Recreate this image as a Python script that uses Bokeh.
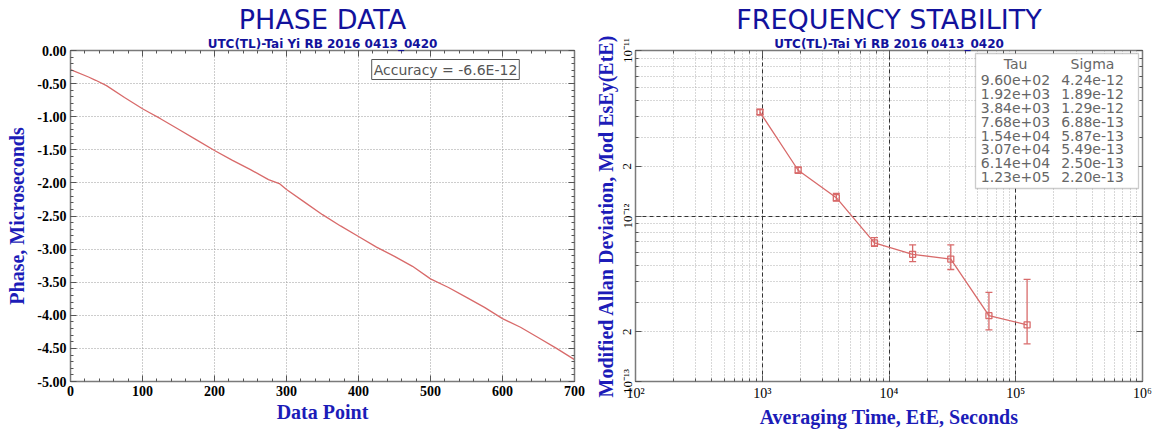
import numpy as np
from bokeh.plotting import figure
from bokeh.models import (Range1d, LinearAxis, LogAxis, FixedTicker, SingleIntervalTicker,
                          NumeralTickFormatter, CustomJSTickFormatter, Title, Label,
                          BoxAnnotation, Whisker, ColumnDataSource, TeeHead)
from bokeh.layouts import row
from bokeh.embed import file_html
from bokeh.resources import INLINE

# ---------------- data ----------------
phase_point = [0, 25, 35, 50, 75, 100, 110, 125, 150, 175, 200, 225, 250, 275, 290, 300,
               325, 350, 375, 400, 425, 450, 475, 500, 525, 550, 575, 600, 625, 650, 675, 700]
phase_us = [-0.29, -0.40, -0.45, -0.53, -0.71, -0.88, -0.94, -1.03, -1.19, -1.35, -1.51,
            -1.66, -1.80, -1.95, -2.01, -2.10, -2.29, -2.48, -2.65, -2.81, -2.97, -3.11,
            -3.26, -3.45, -3.58, -3.73, -3.88, -4.05, -4.18, -4.34, -4.50, -4.67]
accuracy_text = "Accuracy = -6.6E-12"

tau = [960, 1920, 3840, 7680, 15360, 30720, 61440, 122880]
sigma = [4.24e-12, 1.89e-12, 1.29e-12, 6.88e-13, 5.87e-13, 5.49e-13, 2.50e-13, 2.20e-13]
sigma_lo = [4.10e-12, 1.82e-12, 1.23e-12, 6.55e-13, 5.30e-13, 4.75e-13, 2.05e-13, 1.69e-13]
sigma_hi = [4.40e-12, 1.97e-12, 1.37e-12, 7.40e-13, 6.70e-13, 6.70e-13, 3.46e-13, 4.14e-13]

subtitle = "UTC(TL)-Tai Yi RB 2016 0413_0420"
stab_y_major = [1e-13, 2e-13, 1e-12, 2e-12, 1e-11]
stab_y_decades = [1e-13, 1e-12, 1e-11]
stab_y_minor = [m * d for d in [1e-13, 1e-12] for m in range(1, 10)] + [1e-11]

# ---------------- style ----------------
TITLE_BLUE = "#12129c"
LABEL_BLUE = "#1c1cb8"
RED = "#d86a6a"
FRAME = "#7a7a7a"
SERIF = "Liberation Serif"
TITLE_FONT = "DejaVu Sans"

def style_axis(ax, size="14px", bold=True):
    ax.major_label_text_font = SERIF
    ax.major_label_text_font_size = size
    ax.major_label_text_font_style = "bold" if bold else "normal"
    ax.major_label_text_color = "black"
    ax.axis_label_text_font = SERIF
    ax.axis_label_text_font_size = "20px"
    ax.axis_label_text_font_style = "bold"
    ax.axis_label_text_color = LABEL_BLUE
    ax.axis_line_color = FRAME
    ax.axis_line_width = 1.5
    ax.major_tick_in = 6
    ax.major_tick_out = 0
    ax.minor_tick_in = 3
    ax.minor_tick_out = 0
    ax.major_tick_line_color = "#555555"
    ax.minor_tick_line_color = "#555555"

def blank_axis(ax):
    ax.formatter = CustomJSTickFormatter(code="return '';")
    ax.major_label_standoff = 0
    ax.axis_line_color = FRAME
    ax.axis_line_width = 1.5
    ax.major_tick_in = 6
    ax.major_tick_out = 0
    ax.minor_tick_in = 3
    ax.minor_tick_out = 0
    ax.major_tick_line_color = "#555555"
    ax.minor_tick_line_color = "#555555"

def add_titles(p, main, sub):
    p.add_layout(Title(text=sub, align="center", text_font=TITLE_FONT, text_font_size="12px",
                       text_font_style="bold", text_color=TITLE_BLUE, standoff=0), "above")
    p.add_layout(Title(text=main, align="center", text_font=TITLE_FONT, text_font_size="27px",
                       text_font_style="normal", text_color=TITLE_BLUE, standoff=0), "above")

# ---------------- left: phase data ----------------
p1 = figure(width=590, height=430, output_backend="svg", toolbar_location=None, title=None,
            x_range=Range1d(0, 700), y_range=Range1d(-5, 0),
            min_border_left=70, min_border_right=16, min_border_top=50, min_border_bottom=47)
p1.outline_line_color = FRAME
p1.xaxis.ticker = SingleIntervalTicker(interval=100, num_minor_ticks=5)
p1.yaxis.ticker = SingleIntervalTicker(interval=0.5, num_minor_ticks=5)
p1.yaxis.formatter = NumeralTickFormatter(format="0.00")
p1.xaxis.axis_label = "Data Point"
p1.yaxis.axis_label = "Phase, Microseconds"
for ax in p1.xaxis + p1.yaxis:
    style_axis(ax)
p1.xaxis.major_label_standoff = 4
p1.yaxis.major_label_standoff = 4
p1.xaxis.axis_label_standoff = 2
p1.yaxis.axis_label_standoff = 6

top1 = LinearAxis(ticker=SingleIntervalTicker(interval=100, num_minor_ticks=5))
right1 = LinearAxis(ticker=SingleIntervalTicker(interval=0.5, num_minor_ticks=5))
blank_axis(top1); blank_axis(right1)
p1.add_layout(top1, "above")
p1.add_layout(right1, "right")

for g in p1.xgrid + p1.ygrid:
    g.grid_line_color = "#9a9a9a"
    g.grid_line_dash = "1 2"
    g.grid_line_width = 1

p1.line(phase_point, phase_us, line_color=RED, line_width=1.3)

p1.add_layout(Label(x=375, y=312, x_units="screen", y_units="screen", text=accuracy_text,
                    text_align="center", text_baseline="middle", text_font="DejaVu Sans",
                    text_font_size="14px", text_color="#555555", border_line_color="#555555",
                    border_line_width=1, background_fill_color="white", padding=2))
add_titles(p1, "PHASE DATA", subtitle)

# ---------------- right: frequency stability ----------------
p2 = figure(width=564, height=430, output_backend="svg", toolbar_location=None, title=None,
            x_axis_type="log", y_axis_type="log",
            x_range=Range1d(1e2, 1e6), y_range=Range1d(1e-13, 1e-11),
            min_border_left=45, min_border_right=12, min_border_top=50, min_border_bottom=47)
p2.outline_line_color = FRAME

sup_code = """
const sup = {"-":"\u207b","0":"\u2070","1":"\u00b9","2":"\u00b2","3":"\u00b3","4":"\u2074",
             "5":"\u2075","6":"\u2076","7":"\u2077","8":"\u2078","9":"\u2079"};
const e = Math.round(Math.log10(tick));
const m = tick / Math.pow(10, e);
if (Math.abs(m - 1) < 1e-6) {
  return "10" + String(e).split("").map(c => sup[c]).join("");
}
return String(Math.round(m));
"""
p2.xaxis.formatter = CustomJSTickFormatter(code=sup_code)
p2.yaxis.formatter = CustomJSTickFormatter(code=sup_code)
p2.yaxis.ticker = FixedTicker(ticks=stab_y_major, minor_ticks=stab_y_minor)
p2.yaxis.major_label_orientation = "vertical"
p2.xaxis.axis_label = "Averaging Time, EtE, Seconds"
p2.yaxis.axis_label = "Modified Allan Deviation, Mod EsEy(EtE)"
for ax in p2.xaxis + p2.yaxis:
    style_axis(ax, size="14px", bold=False)
p2.yaxis.major_label_text_font_size = "13px"
p2.xaxis.major_label_standoff = 4
p2.yaxis.major_label_standoff = 1
p2.xaxis.axis_label_standoff = 2
p2.yaxis.axis_label_standoff = 0

top2 = LogAxis()
right2 = LogAxis(ticker=FixedTicker(ticks=stab_y_major, minor_ticks=stab_y_minor))
blank_axis(top2); blank_axis(right2)
p2.add_layout(top2, "above")
p2.add_layout(right2, "right")

p2.ygrid.ticker = FixedTicker(ticks=stab_y_decades, minor_ticks=stab_y_minor)
for g in p2.xgrid + p2.ygrid:
    g.grid_line_color = "#333333"
    g.grid_line_dash = "4 3"
    g.grid_line_width = 1
    g.minor_grid_line_color = "#b0b0b0"
    g.minor_grid_line_dash = "1 2"
    g.minor_grid_line_width = 1

src = ColumnDataSource(dict(tau=tau, sigma=sigma, lo=sigma_lo, hi=sigma_hi))
p2.add_layout(Whisker(source=src, base="tau", lower="lo", upper="hi", dimension="height",
                      line_color=RED, line_width=1.3,
                      lower_head=TeeHead(size=7, line_color=RED, line_width=1.3),
                      upper_head=TeeHead(size=7, line_color=RED, line_width=1.3)))
p2.line("tau", "sigma", source=src, line_color=RED, line_width=1.3)
p2.scatter("tau", "sigma", source=src, marker="square", size=6, fill_color=None,
           line_color=RED, line_width=1.3)

# table of values (one label per row and column)
fmt = lambda v: f"{v:.2e}"
tau_col = ["Tau"] + [fmt(t) for t in tau]
sig_col = ["Sigma"] + [fmt(s) for s in sigma]
p2.add_layout(BoxAnnotation(left=340, right=503, bottom=193, top=328,
                            left_units="screen", right_units="screen",
                            bottom_units="screen", top_units="screen",
                            fill_color="white", fill_alpha=1.0,
                            line_color="#555555", line_width=1.3))
for i in range(len(tau_col)):
    yc = 318 - (i * 13.8 + (3 if i > 0 else 0))
    for xc, txt in [(380, tau_col[i]), (457, sig_col[i])]:
        p2.add_layout(Label(x=xc, y=yc, x_units="screen", y_units="screen", text=txt,
                            text_align="center", text_baseline="middle",
                            text_font="DejaVu Sans", text_font_size="14px",
                            text_color="#666666"))

add_titles(p2, "FREQUENCY STABILITY", subtitle)

layout = row(p1, p2)
open("out.html", "w").write(file_html(layout, INLINE))
